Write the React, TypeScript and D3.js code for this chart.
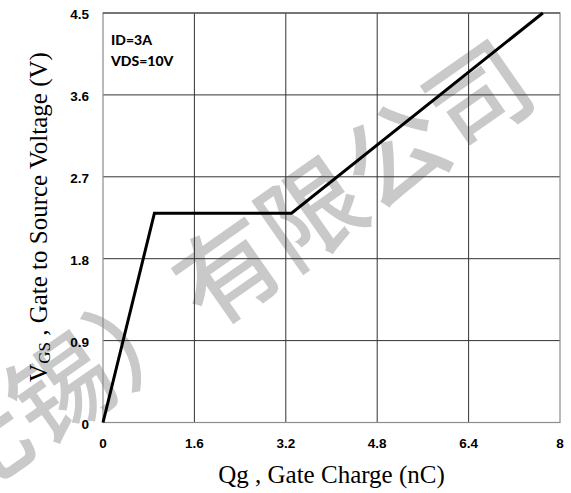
import React from "react";
import * as d3 from "d3";

const qg = [0, 0.9, 3.3, 7.7];
const vgs = [0, 2.3, 2.3, 4.5];
const xTicks = [0, 1.6, 3.2, 4.8, 6.4, 8];
const yTicks = [0, 0.9, 1.8, 2.7, 3.6, 4.5];
const notes = ["ID=3A", "VDS=10V"];
const watermark = "无锡）有限公司";

const W = 571;
const H = 493;
const margin = { top: 13, right: 11, bottom: 70.5, left: 103 };

const App = () => {
  const x = d3
    .scaleLinear()
    .domain([0, 8])
    .range([margin.left, W - margin.right]);
  const y = d3
    .scaleLinear()
    .domain([0, 4.5])
    .range([H - margin.bottom, margin.top]);

  const line = d3
    .line<number>()
    .x((d) => x(d))
    .y((d, i) => y(vgs[i]));

  const tickFont = "'Liberation Sans', Arial, sans-serif";

  return (
    <svg
      width={W}
      height={H}
      style={{ position: "absolute", left: 0, top: 0, background: "#fff" }}
    >
      {/* watermark */}
      <text
        transform="translate(224,266) rotate(-35)"
        textAnchor="middle"
        dominantBaseline="central"
        fontFamily="'Noto Sans CJK SC'"
        fontSize={102}
        fontWeight={500}
        fill="#c9c9c9"
      >
        {watermark}
      </text>

      {/* grid */}
      {xTicks.slice(1, -1).map((t) => (
        <line
          key={"gx" + t}
          x1={x(t)}
          x2={x(t)}
          y1={y(0)}
          y2={y(4.5)}
          stroke="#333"
          strokeWidth={1}
        />
      ))}
      {yTicks.slice(1, -1).map((t) => (
        <line
          key={"gy" + t}
          x1={x(0)}
          x2={x(8)}
          y1={y(t)}
          y2={y(t)}
          stroke="#333"
          strokeWidth={1}
        />
      ))}
      <rect
        x={x(0)}
        y={y(4.5)}
        width={x(8) - x(0)}
        height={y(0) - y(4.5)}
        fill="none"
        stroke="#8c8c8c"
        strokeWidth={1.2}
      />
      <line x1={x(0)} x2={x(8)} y1={y(4.5)} y2={y(4.5)} stroke="#333" />

      {/* curve */}
      <path
        d={line(qg) || ""}
        fill="none"
        stroke="#000"
        strokeWidth={3}
        strokeLinejoin="miter"
      />

      {/* tick labels */}
      {yTicks.map((t) => (
        <text
          key={"ty" + t}
          x={89}
          y={y(t) + 1.5}
          textAnchor="end"
          dominantBaseline="central"
          fontFamily={tickFont}
          fontWeight="bold"
          fontSize={13.5}
        >
          {t}
        </text>
      ))}
      {xTicks.map((t) => (
        <text
          key={"tx" + t}
          x={x(t)}
          y={448}
          textAnchor="middle"
          fontFamily={tickFont}
          fontWeight="bold"
          fontSize={13.5}
        >
          {t}
        </text>
      ))}

      {/* conditions */}
      {notes.map((n, i) => (
        <text
          key={n}
          x={111}
          y={45 + i * 20.5}
          fontFamily="Lato, 'Open Sans', sans-serif"
          fontWeight={900}
          fontSize={14}
        >
          {n}
        </text>
      ))}

      {/* axis titles */}
      <text
        x={(x(0) + x(8)) / 2}
        y={483}
        textAnchor="middle"
        fontFamily="'Liberation Serif', 'Times New Roman', serif"
        fontSize={25}
      >
        Qg , Gate Charge (nC)
      </text>
      <text
        transform={`translate(47,${217}) rotate(-90)`}
        textAnchor="middle"
        fontFamily="'Liberation Serif', 'Times New Roman', serif"
        fontSize={25}
      >
        V
        <tspan fontSize={17} dy={3}>
          GS
        </tspan>
        <tspan dy={-3}> , Gate to Source Voltage (V)</tspan>
      </text>
    </svg>
  );
};

export default App;
